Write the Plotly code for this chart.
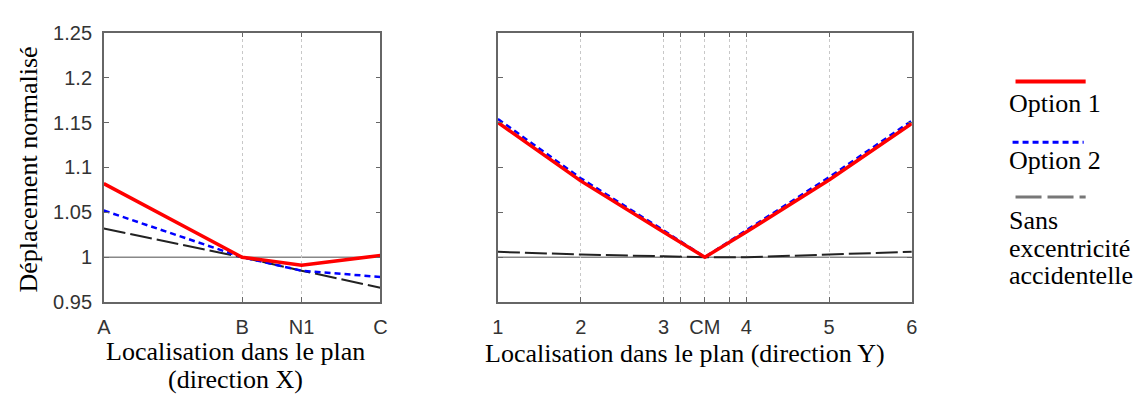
import plotly.graph_objects as go

W, H = 1146, 401

# ---- data ----
x_labels = ["A", "B", "N1", "C"]
x_pos = [0, 0.5, 0.715, 1.0]
opt1_x = [1.082, 1.000, 0.991, 1.002]
opt2_x = [1.052, 1.000, 0.985, 0.978]
sans_x = [1.032, 1.000, 0.985, 0.966]

y_pos = [1, 2, 3, 3.5, 4, 5, 6]
y_labels_pos = [1, 2, 3, 3.2, 3.5, 3.8, 4, 5, 6]
y_labels = ["1", "2", "3", "", "CM", "", "4", "5", "6"]
opt1_y = [1.150, 1.085, 1.028, 1.000, 1.028, 1.086, 1.149]
opt2_y = [1.154, 1.088, 1.030, 1.000, 1.030, 1.089, 1.152]
sans_y = [1.006, 1.003, 1.001, 1.000, 1.000, 1.003, 1.006]

yticks = [0.95, 1.0, 1.05, 1.1, 1.15, 1.2, 1.25]
ytick_text = ["0.95", "1", "1.05", "1.1", "1.15", "1.2", "1.25"]

series_names = ["Option 1", "Option 2", "Sans excentricité accidentelle"]

RED = "#ff0000"
BLUE = "#0000ff"
BLACK = "#222222"

styles = [
    dict(color=RED, width=3.5, dash="solid"),
    dict(color=BLUE, width=2.5, dash="6px,4px"),
    dict(color=BLACK, width=2, dash="22px,5px"),
]

def px(x):
    return x / W

def py(y):
    return 1 - y / H

fig = go.Figure()

for vals, st, nm in zip([sans_x, opt2_x, opt1_x], styles[::-1], series_names[::-1]):
    fig.add_trace(go.Scatter(x=x_pos, y=vals, mode="lines", line=st, name=nm,
                             xaxis="x", yaxis="y", showlegend=False))
for vals, st, nm in zip([sans_y, opt2_y, opt1_y], styles[::-1], series_names[::-1]):
    fig.add_trace(go.Scatter(x=y_pos, y=vals, mode="lines", line=st, name=nm,
                             xaxis="x2", yaxis="y2", showlegend=False))

tickfont = dict(family="Liberation Sans, Arial", size=20, color="#333333")
serif = dict(family="Liberation Serif, Times New Roman", size=26, color="#000000")

ydom = [py(308), py(23)]
common_ax = dict(showline=True, linecolor="#666666", linewidth=1.5, mirror="ticks",
                 ticks="inside", ticklen=5, tickcolor="#666666", zeroline=False,
                 tickfont=tickfont)

fig.update_layout(
    width=W, height=H,
    margin=dict(l=0, r=0, t=0, b=0),
    paper_bgcolor="white", plot_bgcolor="white",
    showlegend=False,
    xaxis=dict(domain=[px(98), px(378)], range=[0, 1], tickmode="array",
               tickvals=x_pos, ticktext=x_labels, showgrid=True,
               gridcolor="#c8c8c8", griddash="dot", gridwidth=1, anchor="y",
               ticklabelstandoff=6, **common_ax),
    yaxis=dict(domain=ydom, range=[0.95, 1.25], tickmode="array",
               tickvals=yticks, ticktext=ytick_text, showgrid=False, anchor="x",
               ticklabelstandoff=6, **common_ax),
    xaxis2=dict(domain=[px(497), px(916)], range=[1, 6], tickmode="array",
                tickvals=y_labels_pos, ticktext=y_labels, showgrid=True,
                gridcolor="#c8c8c8", griddash="dot", gridwidth=1, anchor="y2",
                ticklabelstandoff=6, **common_ax),
    yaxis2=dict(domain=ydom, range=[0.95, 1.25], tickmode="array",
                tickvals=yticks, showticklabels=False, showgrid=False, anchor="x2",
                **common_ax),
)

# reference line at 1 in both panels
for xr, yr in [("x domain", "y"), ("x2 domain", "y2")]:
    fig.add_shape(type="line", xref=xr, yref=yr, x0=0, x1=1, y0=1, y1=1,
                  line=dict(color="#888888", width=1.5), layer="below")

# axis titles
fig.add_annotation(text="Déplacement normalisé", xref="paper", yref="paper",
                   x=px(22), y=py(168), textangle=-90, showarrow=False, font=serif,
                   xanchor="center", yanchor="middle")
fig.add_annotation(text="Localisation dans le plan", xref="paper", yref="paper",
                   x=px(231), y=py(360), showarrow=False, font=serif,
                   xanchor="center", yanchor="middle")
fig.add_annotation(text="(direction X)", xref="paper", yref="paper",
                   x=px(231), y=py(390), showarrow=False, font=serif,
                   xanchor="center", yanchor="middle")
fig.add_annotation(text="Localisation dans le plan (direction Y)", xref="paper", yref="paper",
                   x=px(686), y=py(362), showarrow=False, font=serif,
                   xanchor="center", yanchor="middle")

# legend (manual: sample line above the label)
leg_lines = [(74.7, 1021, 1092), (139, 1018, 1090), (196.7, 1021, 1092)]
leg_styles = [dict(color=RED, width=4, dash="solid"),
              dict(color=BLUE, width=3, dash="6px,4px"),
              dict(color="#777777", width=3, dash="26px,6px")]
for (yy, x0, x1), st in zip(leg_lines, leg_styles):
    fig.add_shape(type="line", xref="paper", yref="paper",
                  x0=px(x0), x1=px(x1), y0=py(yy), y1=py(yy), line=st)

leg_text = [("Option 1", 98), ("Option 2", 158), ("Sans", 222),
            ("excentricité", 251), ("accidentelle", 280)]
for t, yy in leg_text:
    fig.add_annotation(text=t, xref="paper", yref="paper", x=px(1012), y=py(yy),
                       showarrow=False, font=serif, xanchor="left", yanchor="middle")

fig.write_html("out.html")
